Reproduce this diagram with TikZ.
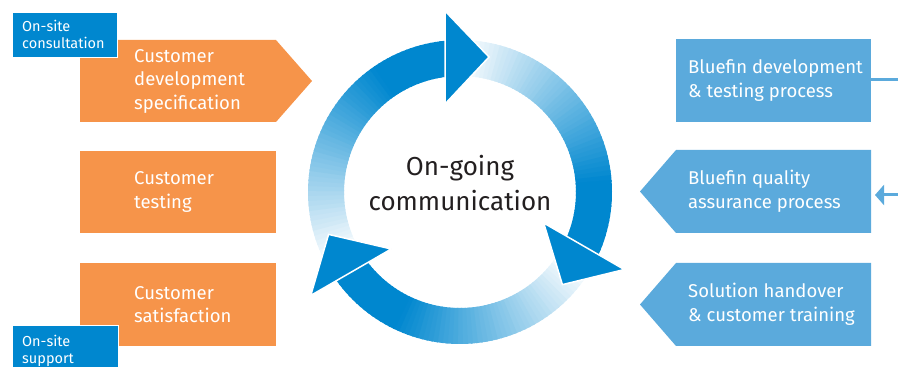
\documentclass[tikz,border=0pt]{standalone}
\usepackage{fontspec}
\setmainfont{Fira Sans}
\usetikzlibrary{arrows.meta}
\definecolor{bforange}{RGB}{246,148,74}
\definecolor{bfblue}{RGB}{0,135,207}
\definecolor{bflight}{RGB}{91,170,220}
\definecolor{bftext}{RGB}{35,31,32}

\begin{document}
\begin{tikzpicture}[x=1pt,y=1pt,
  boxtext/.style={anchor=west,align=left,text=white,inner sep=0pt,
    font=\fontsize{18.5}{23.5}\selectfont},
  tagtext/.style={anchor=west,align=left,text=white,inner sep=0pt,
    font=\fontsize{14.5}{17}\selectfont},
  tagbox/.style={fill=bfblue,draw=white,line width=1pt},
  linkline/.style={draw=bflight,line width=3pt}]
  \useasboundingbox (0,0) rectangle (898,367);

  % Ring of three arrows round the centre (460,175)
  \foreach \k in {0,1,2} {
    \begin{scope}[shift={(460,175)},rotate=-120*\k]
      \foreach \i in {0,...,59} {
        \pgfmathsetmacro\aa{210-\i*1.9}
        \pgfmathsetmacro\ab{\aa-2.6}
        \pgfmathtruncatemacro\pp{min(100,\i*2.25)}
        \fill[bfblue!\pp!white] (\aa:116) arc[start angle=\aa,end angle=\ab,radius=116]
          -- (\ab:152) arc[start angle=\ab,end angle=\aa,radius=152] -- cycle;
      }
    \end{scope}
  }
  % Heads of the arrows
  \foreach \k in {0,1,2} {
    \begin{scope}[shift={(460,175)},rotate=-120*\k]
      \fill[bfblue,draw=white,line width=1.5pt] (-15,88) -- (-15,181) -- (29,135) -- cycle;
    \end{scope}
  }
  \node[align=center,inner sep=0pt,text=bftext,font=\fontsize{26}{35}\selectfont]
    (talk) at (460,184) {On-going\\communication};

  % Customer side (orange)
  \fill[bforange] (80,245) -- (276,245) -- (312,286) -- (276,327) -- (80,327) -- cycle;
  \fill[bforange] (80,134) rectangle (276,216);
  \fill[bforange] (80,21) rectangle (276,104);
  \node[boxtext] (spec) at (134,286) {Customer\\development\\specification};
  \node[boxtext] (test) at (134,175) {Customer\\testing};
  \node[boxtext] (satis) at (134,62.5) {Customer\\satisfaction};

  % On-site tags
  \fill[tagbox] (12,309) rectangle (117,354);
  \node[tagtext] (consult) at (22,332.5) {On-site\\consultation};
  \fill[tagbox] (12,-5) rectangle (118,41);
  \node[tagtext] (support) at (22,16) {On-site\\support};

  % Bluefin side (light blue)
  \node[fill=bflight,minimum width=195pt,minimum height=83pt,inner sep=0pt]
    (devbox) at (773.5,286.5) {};
  \fill[bflight] (871,134) -- (871,217) -- (676,217) -- (640,175.5) -- (676,134) -- cycle;
  \fill[bflight] (871,21) -- (871,104) -- (676,104) -- (640,62.5) -- (676,21) -- cycle;
  \node[boxtext] (dev) at (688,286.5) {Bluefin development\\\& testing process};
  \node[boxtext] (qa) at (688,175.5) {Bluefin quality\\assurance process};
  \node[boxtext] (hand) at (688,62.5) {Solution handover\\\& customer training};

  % Links to the right edge
  \coordinate (devend) at (898,287);
  \coordinate (qastart) at (898,172);
  \coordinate (qatip) at (875,172);
  \draw[linkline] (devbox.east |- devend) -- (devend);
  \draw[linkline,-{Triangle[length=9pt,width=20pt]}] (qastart) -- (qatip);
\end{tikzpicture}
\end{document}
